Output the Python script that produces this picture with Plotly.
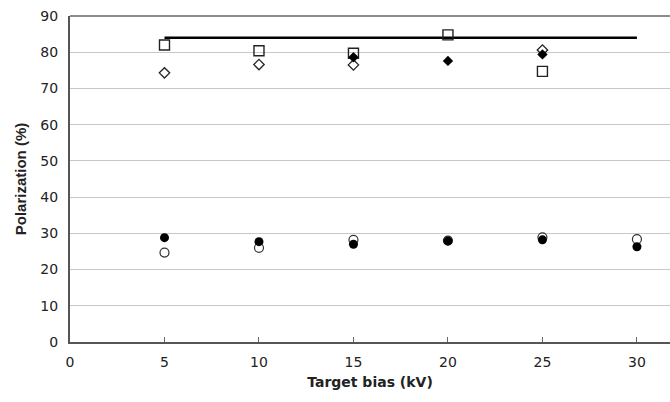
import plotly.graph_objects as go

bias = [5, 10, 15, 20, 25, 30]
line_x = [5, 30]
line_y = [84, 84]
open_square = [82, 80.4, 79.7, 84.8, 74.7, None]
open_diamond = [74.3, 76.6, 76.5, None, 80.6, None]
filled_diamond = [None, None, 78.6, 77.6, 79.4, None]
open_circle = [24.7, 26.0, 28.2, 28.0, 28.9, 28.4]
filled_circle = [28.8, 27.7, 27.0, 27.9, 28.2, 26.3]

fig = go.Figure()
fig.add_trace(go.Scatter(x=line_x, y=line_y, mode="lines",
                         line=dict(color="black", width=2.5), showlegend=False))
fig.add_trace(go.Scatter(x=bias, y=open_square, mode="markers",
                         marker=dict(symbol="square-open", size=10, color="#222",
                                     line=dict(width=1.4)), showlegend=False))
fig.add_trace(go.Scatter(x=bias, y=open_diamond, mode="markers",
                         marker=dict(symbol="diamond-open", size=8, color="#222",
                                     line=dict(width=1.3)), showlegend=False))
fig.add_trace(go.Scatter(x=bias, y=filled_diamond, mode="markers",
                         marker=dict(symbol="diamond", size=8, color="black"), showlegend=False))
fig.add_trace(go.Scatter(x=bias, y=open_circle, mode="markers",
                         marker=dict(symbol="circle-open", size=9, color="#333",
                                     line=dict(width=1.2)), showlegend=False))
fig.add_trace(go.Scatter(x=bias, y=filled_circle, mode="markers",
                         marker=dict(symbol="circle", size=9, color="black"), showlegend=False))

fig.update_layout(
    width=670, height=402,
    margin=dict(l=70, r=0, t=16, b=60),
    paper_bgcolor="white", plot_bgcolor="white",
    font=dict(family="Liberation Sans, Arial, sans-serif", size=15, color="#222"),
    showlegend=False,
)
fig.add_shape(type="line", xref="paper", yref="paper", x0=0, x1=1, y0=1, y1=1,
              line=dict(color="#666", width=1.5), layer="above")
fig.update_xaxes(
    range=[0, 31.75], tickvals=bias + [0], ticks="inside", ticklen=5, tickcolor="#666",
    showline=True, linecolor="#555", linewidth=2, showgrid=False, zeroline=False,
    automargin=False, ticklabelstandoff=6, ticklabeloverflow="allow",
    tickfont=dict(family="DejaVu Sans", size=14),
    title=dict(text="<b>Target bias (kV)</b>", font=dict(family="DejaVu Sans", size=14), standoff=8),
)
fig.update_yaxes(
    range=[0, 90], dtick=10, ticks="", showline=True, linecolor="#555", linewidth=2,
    showgrid=True, gridcolor="#c8c8c8", gridwidth=1, zeroline=False,
    automargin=False, ticklabelstandoff=7, ticklabeloverflow="allow",
    tickfont=dict(family="DejaVu Sans", size=14),
    title=dict(text="<b>Polarization (%)</b>", font=dict(size=15), standoff=10),
)
fig.write_html(
    "out.html",
    config={"displayModeBar": False},
    post_script="document.body.style.margin='0';document.body.style.overflow='hidden';",
)
